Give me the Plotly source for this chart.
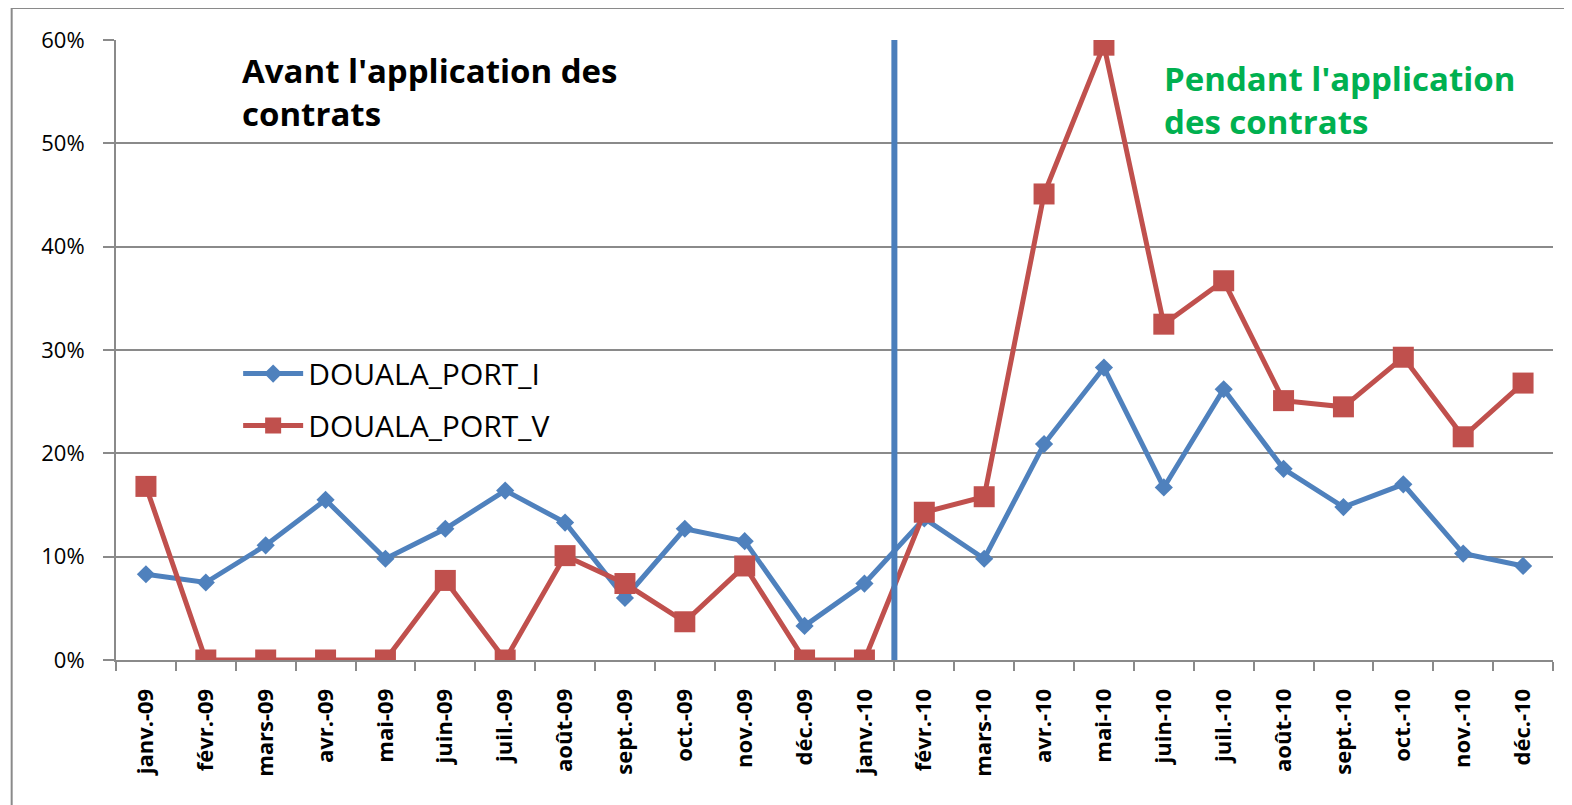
import plotly.graph_objects as go

# Données (part en fraction)
mois = ["janv.-09", "févr.-09", "mars-09", "avr.-09", "mai-09", "juin-09",
        "juil.-09", "août-09", "sept.-09", "oct.-09", "nov.-09", "déc.-09",
        "janv.-10", "févr.-10", "mars-10", "avr.-10", "mai-10", "juin-10",
        "juil.-10", "août-10", "sept.-10", "oct.-10", "nov.-10", "déc.-10"]

douala_port_i = [0.083, 0.075, 0.111, 0.155, 0.098, 0.127, 0.164, 0.133,
                 0.060, 0.127, 0.115, 0.033, 0.074, 0.137, 0.098, 0.209,
                 0.283, 0.167, 0.262, 0.185, 0.148, 0.170, 0.103, 0.091]

douala_port_v = [0.168, 0.0, 0.0, 0.0, 0.0, 0.077, 0.0, 0.101,
                 0.074, 0.037, 0.091, 0.0, 0.0, 0.143, 0.158, 0.451,
                 0.595, 0.325, 0.367, 0.251, 0.245, 0.293, 0.216, 0.268]

# début de l'application des contrats : entre janv.-10 et févr.-10
separation = 12.5

BLEU = "#4f81bd"
ROUGE = "#c0504d"
GRIS = "#8a8a8a"
FONT = "Open Sans"

fig = go.Figure()

fig.add_trace(go.Scatter(
    x=mois, y=douala_port_i, name="DOUALA_PORT_I", mode="lines+markers",
    line=dict(color=BLEU, width=5),
    marker=dict(symbol="diamond", size=14, color=BLEU),
    legendgroup="i",
))
fig.add_trace(go.Scatter(
    x=mois, y=douala_port_v, name="DOUALA_PORT_V", mode="lines+markers",
    line=dict(color=ROUGE, width=5),
    marker=dict(symbol="square", size=21, color=ROUGE),
    legendgroup="v",
))

# trait vertical de séparation
fig.add_shape(type="line", xref="x", yref="y", x0=separation, x1=separation,
              y0=0, y1=0.6, line=dict(color="#4a7ebb", width=6), layer="above")

# cadre extérieur
fig.add_shape(type="rect", xref="paper", yref="paper",
              x0=-0.0726, x1=1.05, y0=-0.4, y1=1.0516,
              line=dict(color=GRIS, width=2))

fig.add_annotation(xref="paper", yref="paper", x=0.0863, y=0.99,
                   xanchor="left", yanchor="top", align="left", showarrow=False,
                   text="<b>Avant l'application des<br>contrats</b>",
                   font=dict(family=FONT, size=33, color="#000000"))
fig.add_annotation(xref="paper", yref="paper", x=0.728, y=0.978,
                   xanchor="left", yanchor="top", align="left", showarrow=False,
                   text="<b>Pendant l'application<br>des contrats</b>",
                   font=dict(family=FONT, size=33, color="#00b050"))

fig.update_layout(
    width=1564, height=797,
    margin=dict(l=108, r=19, t=32, b=145),
    paper_bgcolor="white", plot_bgcolor="white",
    font=dict(family=FONT, color="#000000"),
    showlegend=True,
    legend=dict(
        x=0.085, y=0.42, xanchor="left", yanchor="middle",
        font=dict(family=FONT, size=30, color="#000000"),
        bgcolor="rgba(0,0,0,0)", tracegroupgap=10, itemwidth=60,
    ),
    xaxis=dict(
        type="category", range=[-0.5, 23.5], tickson="boundaries",
        ticks="outside", ticklen=9, tickcolor=GRIS, tickwidth=2,
        showline=True, linecolor=GRIS, linewidth=2,
        showgrid=False, tickangle=-90, ticklabelstandoff=18,
        tickfont=dict(family=FONT, size=22, color="#000000", weight="bold"),
    ),
    yaxis=dict(
        range=[0, 0.6], dtick=0.1, tickformat=".0%",
        ticks="outside", ticklen=11, tickcolor=GRIS, tickwidth=2,
        showline=True, linecolor=GRIS, linewidth=2,
        showgrid=True, gridcolor=GRIS, gridwidth=2, zeroline=False,
        ticklabelstandoff=14,
        tickfont=dict(family=FONT, size=22, color="#000000"),
    ),
)

fig.write_html("out.html")
